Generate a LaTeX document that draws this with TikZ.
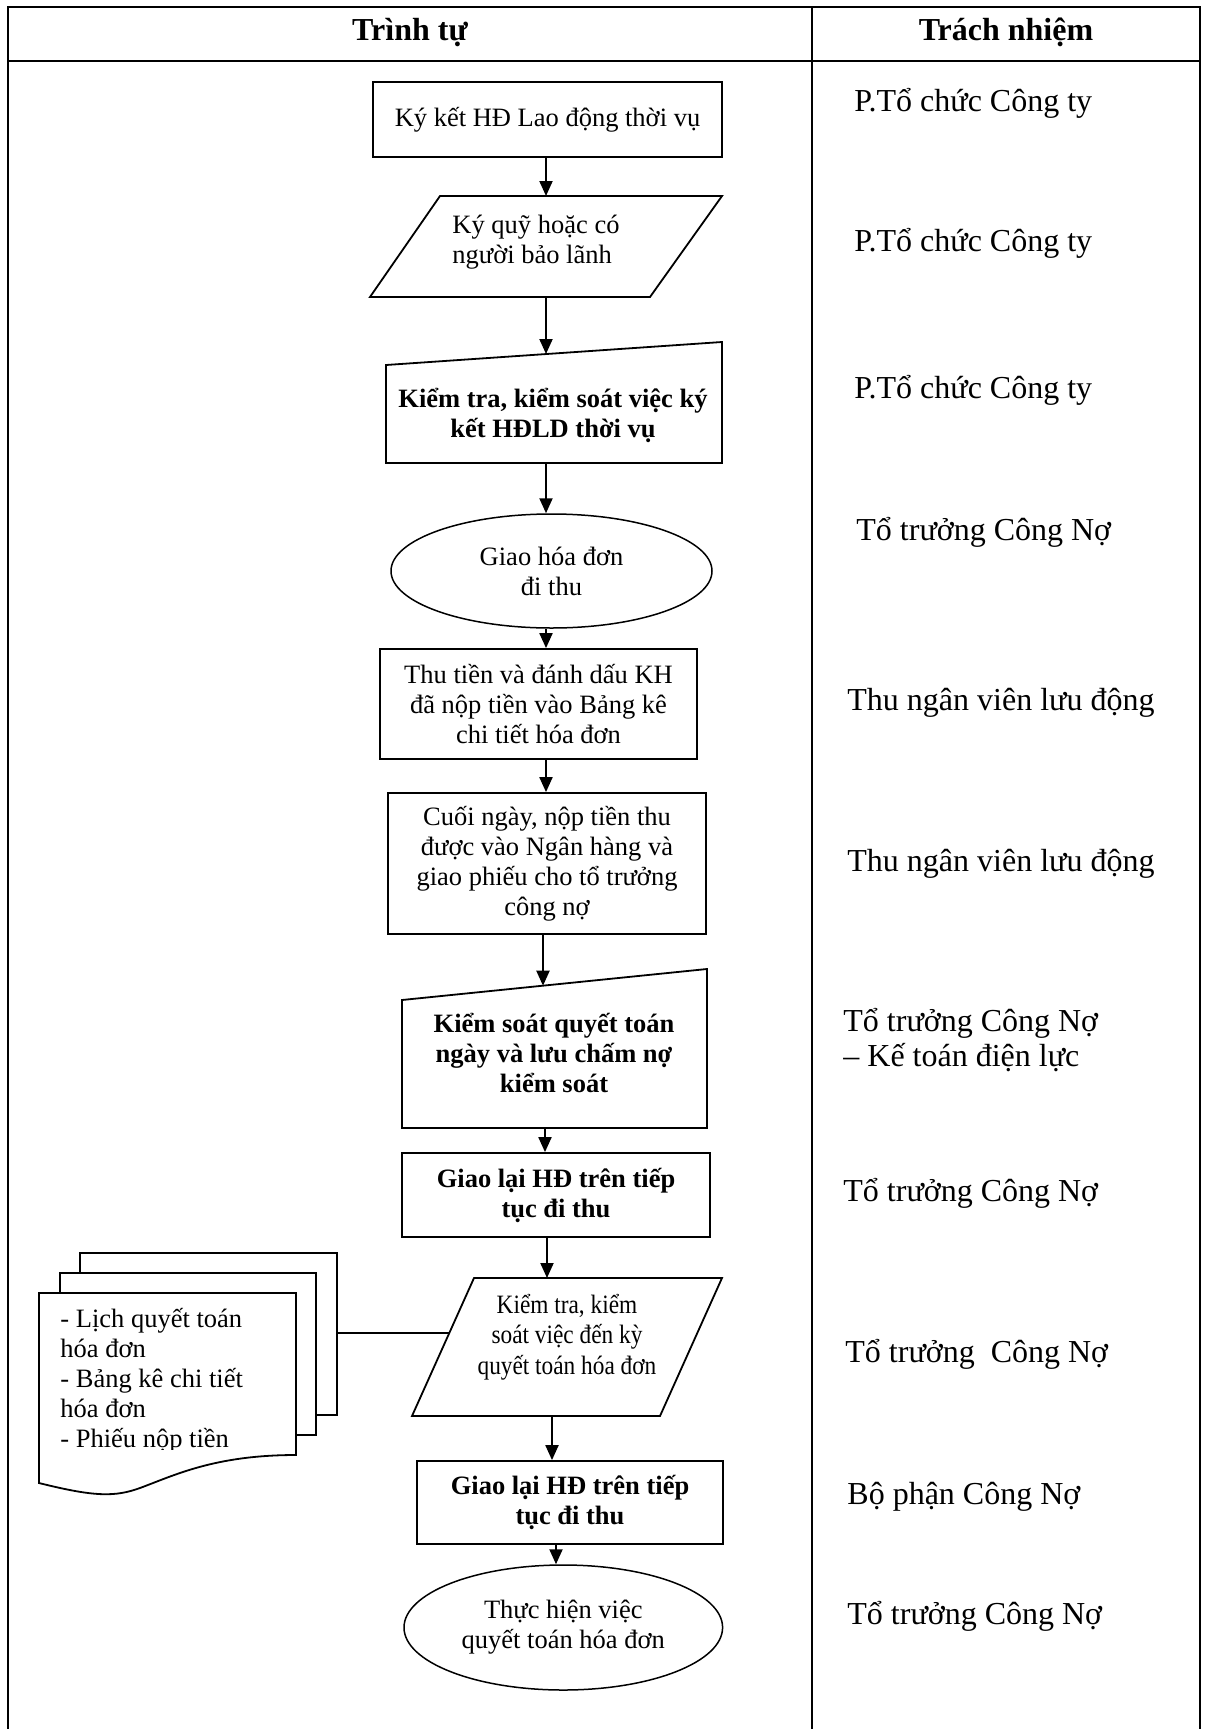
\documentclass[tikz,border=0pt]{standalone}
\usepackage{fontspec}
\setmainfont{Liberation Serif}
\newfontfamily\narrowserif[FakeStretch=0.88]{Liberation Serif}
\usetikzlibrary{arrows.meta,shapes.geometric}

% text sizes used in the chart
\newcommand{\flowtext}{\fontsize{13.25}{15}\selectfont}
\newcommand{\resptext}{\fontsize{16}{17.5}\selectfont}
\newcommand{\headtext}{\fontsize{16}{19}\selectfont\bfseries}

\begin{document}
\begin{tikzpicture}[x=0.5pt,y=-0.5pt,
  tableline/.style={line width=1.1pt},
  outline/.style={draw, line width=0.9pt, fill=white},
  flowbox/.style={outline, rectangle, inner sep=0pt, align=center, font=\flowtext},
  flowboxbold/.style={flowbox, font=\flowtext\bfseries},
  flowoval/.style={draw, line width=0.75pt, fill=white, ellipse, inner sep=0pt, align=center, font=\flowtext},
  flowtxt/.style={inner sep=0pt, align=center, font=\flowtext},
  flowtxtbold/.style={flowtxt, font=\flowtext\bfseries},
  resp/.style={anchor=base west, inner sep=0pt, font=\resptext},
  head/.style={anchor=base, inner sep=0pt, font=\headtext},
  arr/.style={line width=1pt, -{Triangle[width=6.5pt,length=7.5pt]}},
  link/.style={line width=0.85pt}
]
\useasboundingbox (0,0) rectangle (1205,1729);

% table frame
\draw[tableline] (8,1729) -- (8,7) -- (1200,7) -- (1200,1729);
\draw[tableline] (8,61) -- (1200,61);
\draw[tableline] (812,7) -- (812,1729);
\node[head] (h1) at (410,40) {Trình tự};
\node[head] (h2) at (1006,40) {Trách nhiệm};

% ---- process steps ----
\node[flowbox, minimum width=174.5pt, minimum height=37.5pt] (b1) at (547.5,119.5)
  {Ký kết HĐ Lao động thời vụ};

\draw[outline] (440,196) -- (722,196) -- (650,297) -- (370,297) -- cycle;
\node[flowtxt, align=left] (p2) at (536,242) {Ký quỹ hoặc có\\người bảo lãnh};
\coordinate (p2top) at (546,196);
\coordinate (p2bot) at (546,297);

\draw[outline] (386,365) -- (722,342) -- (722,463) -- (386,463) -- cycle;
\node[flowtxtbold] (m3) at (553,415) {Kiểm tra, kiểm soát việc ký\\kết HĐLD thời vụ};
\coordinate (m3top) at (546,354);
\coordinate (m3bot) at (546,463);

\node[flowoval, minimum width=160.5pt, minimum height=57pt] (e4) at (551.5,571)
  {Giao hóa đơn\\đi thu};

\node[flowbox, minimum width=158.5pt, minimum height=55pt] (b5) at (538.5,704)
  {Thu tiền và đánh dấu KH\\đã nộp tiền vào Bảng kê\\chi tiết hóa đơn};

\node[flowbox, minimum width=159pt, minimum height=70.5pt] (b6) at (547,863.5)
  {Cuối ngày, nộp tiền thu\\được vào Ngân hàng và\\giao phiếu cho tổ trưởng\\công nợ};

\draw[outline] (402,1000) -- (707,969) -- (707,1128) -- (402,1128) -- cycle;
\node[flowtxtbold] (m7) at (554,1053) {Kiểm soát quyết toán\\ngày và lưu chấm nợ\\kiểm soát};
\coordinate (m7top) at (543,985.7);
\coordinate (m7bot) at (545,1128);

\node[flowboxbold, minimum width=154pt, minimum height=42pt] (b8) at (556,1195)
  {Giao lại HĐ trên tiếp\\tục đi thu};

\draw[outline] (474,1278) -- (722,1278) -- (660,1416) -- (412,1416) -- cycle;
\node[flowtxt, font={\narrowserif\fontsize{13.25}{15.25}\selectfont}] (p9) at (567,1337)
  {Kiểm tra, kiểm\\soát việc đến kỳ\\quyết toán hóa đơn};
\coordinate (p9top) at (547,1278);
\coordinate (p9bot) at (552,1416);
\coordinate (p9left) at (449.3,1333);

\node[flowboxbold, minimum width=153pt, minimum height=41.5pt] (b10) at (570,1502.5)
  {Giao lại HĐ trên tiếp\\tục đi thu};

\node[flowoval, minimum width=159.3pt, minimum height=62.5pt] (e11) at (563.3,1627.5)
  {Thực hiện việc\\quyết toán hóa đơn};

% ---- stacked documents ----
\draw[outline] (80,1253) rectangle (337,1415);
\draw[outline] (60,1273) rectangle (316,1435);
\draw[outline] (39,1293) -- (296,1293) -- (296,1455)
  .. controls (215,1455) and (175,1475) .. (140,1488)
  .. controls (115,1497) and (95,1497) .. (39,1483) -- cycle;
\begin{scope}
  \clip (39,1293) rectangle (296,1449.5);
  \node[anchor=base west, inner sep=0pt, font=\flowtext] (doc) at (60,1327)
    {\parbox[t]{120pt}{\raggedright - Lịch quyết toán\\hóa đơn\\- Bảng kê chi tiết\\hóa đơn\\- Phiếu nộp tiền}};
\end{scope}
\coordinate (docR) at (337,1333);
\draw[link] (docR) -- (p9left);

% ---- connectors ----
\draw[arr] ([xshift=-0.75pt]b1.south) -- (p2top);
\draw[arr] (p2bot) -- (m3top);
\draw[arr] (m3bot) -- (m3bot |- e4.north);
\draw[arr] ([xshift=-2.75pt]e4.south) -- ([xshift=-2.75pt]e4.south |- b5.north);
\draw[arr] ([xshift=3.75pt]b5.south) -- ([xshift=3.75pt]b5.south |- b6.north);
\draw[arr] ([xshift=-2pt]b6.south) -- (m7top);
\draw[arr] (m7bot) -- (m7bot |- b8.north);
\draw[arr] ([xshift=-4.5pt]b8.south) -- (p9top);
\draw[arr] (p9bot) -- (p9bot |- b10.north);
\draw[arr] ([xshift=-7pt]b10.south) -- ([xshift=-7pt]b10.south |- e11.north);

% ---- responsibilities ----
\node[resp] (r1) at (854,111) {P.Tổ chức Công ty};
\node[resp] (r2) at (854,251) {P.Tổ chức Công ty};
\node[resp] (r3) at (854,398) {P.Tổ chức Công ty};
\node[resp] (r4) at (856,540) {Tổ trưởng Công Nợ};
\node[resp] (r5) at (847,710) {Thu ngân viên lưu động};
\node[resp] (r6) at (847,871) {Thu ngân viên lưu động};
\node[resp] (r7) at (843,1031) {\parbox[t]{150pt}{\raggedright Tổ trưởng Công Nợ\\– Kế toán điện lực}};
\node[resp] (r8) at (843,1201) {Tổ trưởng Công Nợ};
\node[resp] (r9) at (845,1362) {Tổ trưởng\ \ Công Nợ};
\node[resp] (r10) at (847,1504) {Bộ phận Công Nợ};
\node[resp] (r11) at (847,1624) {Tổ trưởng Công Nợ};
\end{tikzpicture}
\end{document}
